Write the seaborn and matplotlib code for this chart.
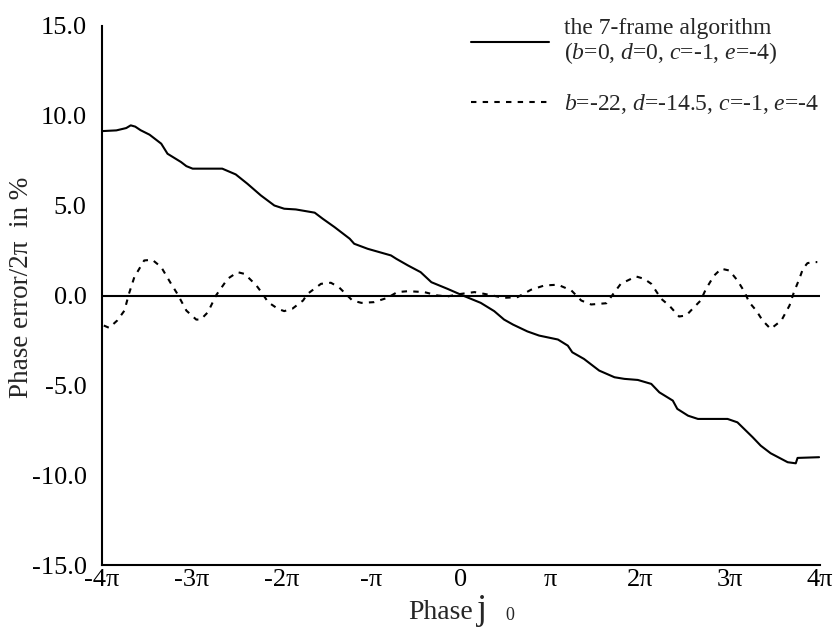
import numpy as np
import pandas as pd
import matplotlib
matplotlib.use("Agg")
import matplotlib.pyplot as plt
import seaborn as sns

# ---- data (x in units of pi, y in %) ----
solid_x = [-4.00, -3.84, -3.73, -3.68, -3.63, -3.57, -3.47, -3.34, -3.27, -3.12, -3.06, -2.99,
           -2.66, -2.51, -2.38, -2.23, -2.08, -1.97, -1.84, -1.63, -1.54, -1.41, -1.24, -1.19,
           -1.04, -0.97, -0.78, -0.72, -0.59, -0.45, -0.33, -0.15, 0.02, 0.22, 0.37, 0.48,
           0.58, 0.74, 0.87, 1.08, 1.19, 1.24, 1.37, 1.54, 1.71, 1.82, 1.97, 2.12, 2.21,
           2.36, 2.41, 2.53, 2.64, 2.97, 3.08, 3.25, 3.34, 3.45, 3.64, 3.73, 3.75, 3.99]
solid_y = [9.15, 9.19, 9.32, 9.47, 9.40, 9.20, 8.95, 8.45, 7.89, 7.43, 7.20, 7.06,
           7.06, 6.74, 6.22, 5.57, 5.01, 4.83, 4.79, 4.61, 4.27, 3.81, 3.16, 2.88,
           2.60, 2.50, 2.23, 2.04, 1.67, 1.30, 0.74, 0.37, 0.00, -0.41, -0.87, -1.34,
           -1.62, -2.00, -2.23, -2.45, -2.79, -3.16, -3.53, -4.18, -4.55, -4.64, -4.70, -4.92, -5.39,
           -5.85, -6.31, -6.69, -6.87, -6.87, -7.06, -7.89, -8.36, -8.78, -9.28, -9.34, -9.04, -9.00]

dash_x = [-3.98, -3.92, -3.83, -3.75, -3.70, -3.64, -3.53, -3.44, -3.34, -3.23, -3.16, -3.06,
          -2.95, -2.90, -2.82, -2.73, -2.60, -2.49, -2.41, -2.28, -2.21, -2.15, -2.04, -1.97,
          -1.88, -1.76, -1.71, -1.56, -1.45, -1.36, -1.21, -1.11, -0.97, -0.82, -0.71, -0.59,
          -0.41, -0.26, -0.15, 0.00, 0.15, 0.26, 0.48, 0.63, 0.78, 0.93, 1.08, 1.23, 1.34,
          1.45, 1.62, 1.67, 1.78, 1.95, 2.04, 2.12, 2.23, 2.32, 2.43, 2.51, 2.58, 2.67, 2.73,
          2.82, 2.90, 2.99, 3.08, 3.16, 3.21, 3.29, 3.36, 3.45, 3.57, 3.66, 3.71, 3.77, 3.81,
          3.86, 3.92, 3.97]
dash_y = [-1.67, -1.80, -1.39, -0.84, 0.09, 1.02, 1.95, 1.99, 1.58, 0.65, 0.09, -0.84,
          -1.34, -1.34, -0.93, 0.00, 0.93, 1.30, 1.20, 0.56, 0.09, -0.37, -0.74, -0.87,
          -0.74, -0.28, 0.09, 0.65, 0.71, 0.46, -0.28, -0.41, -0.37, -0.13, 0.19, 0.24,
          0.19, 0.00, -0.05, 0.09, 0.19, 0.09, -0.13, -0.09, 0.32, 0.56, 0.60, 0.28, -0.28,
          -0.50, -0.43, -0.09, 0.65, 1.06, 0.93, 0.65, -0.18, -0.56, -1.17, -1.11, -0.74, -0.28, 0.37,
          1.11, 1.49, 1.39, 0.84, 0.19, -0.37, -0.84, -1.39, -1.86, -1.39, -0.56, 0.19, 0.93, 1.49,
          1.80, 1.86, 1.86]

xtick_vals = [-4, -3, -2, -1, 0, 1, 2, 3, 4]
xtick_labels = ["-4\u03c0", "-3\u03c0", "-2\u03c0", "-\u03c0", "0", "\u03c0", "2\u03c0", "3\u03c0", "4\u03c0"]
ytick_vals = [-15, -10, -5, 0, 5, 10, 15]
ytick_labels = ["-15.0", "-10.0", "-5.0", "0.0", "5.0", "10.0", "15.0"]

label_solid = "the 7-frame algorithm\n($b$=0, $d$=0, $c$=-1, $e$=-4)"
label_dash = "$b$=-22, $d$=-14.5, $c$=-1, $e$=-4"

sns.set_theme(style="white")
plt.rcParams["font.family"] = ["Liberation Serif", "DejaVu Serif"]
plt.rcParams["mathtext.fontset"] = "custom"
plt.rcParams["mathtext.rm"] = "Liberation Serif"
plt.rcParams["mathtext.it"] = "Liberation Serif:italic"
plt.rcParams["axes.unicode_minus"] = False

fig = plt.figure(figsize=(8.39, 6.30), dpi=100)
ax = fig.add_axes([102/839, 1-565/630, (820-102)/839, (565-26)/630])

df_s = pd.DataFrame({"x": np.array(solid_x) * np.pi, "y": solid_y})
df_d = pd.DataFrame({"x": np.array(dash_x) * np.pi, "y": dash_y})

ax.axhline(0, color="black", lw=1.5, zorder=1)
sns.lineplot(data=df_s, x="x", y="y", ax=ax, color="black", lw=1.5, label=label_solid)
sns.lineplot(data=df_d, x="x", y="y", ax=ax, color="black", lw=1.5,
             dashes=False, label=label_dash)
ax.lines[-1].set_linestyle((0, (2.6, 3.0)))

ax.set_xlim(-4*np.pi, 4*np.pi)
ax.set_ylim(-15, 15)
ax.set_xticks(np.array(xtick_vals) * np.pi)
ax.set_xticklabels(xtick_labels)
ax.set_yticks(ytick_vals)
ax.set_yticklabels(ytick_labels)
ax.tick_params(axis="x", direction="in", length=11, width=1.5, pad=3, labelsize=19, colors="black")
ax.tick_params(axis="y", direction="in", length=9.5, width=1.5, pad=11, labelsize=19, colors="black")
for s in ["top", "right"]:
    ax.spines[s].set_visible(False)
for s in ["left", "bottom"]:
    ax.spines[s].set_linewidth(1.5)
    ax.spines[s].set_color("black")
ax.set_xlabel("")
ax.set_ylabel("Phase error/2\u03c0  in %", fontsize=19.5)
ax.yaxis.set_label_coords(-0.095, 0.515)

# x label: "Phase" + symbol j + subscript 0
fig.text(408/839, 1-619/630, "Phase", fontsize=20, ha="left", va="baseline")
fig.text(477/839, 1-619/630, "j", fontsize=26, ha="left", va="baseline")
fig.text(505/839, 1-620/630, "0", fontsize=13, ha="left", va="baseline")

leg = ax.legend(loc="upper left", bbox_to_anchor=(462/839, 1-9/630), bbox_transform=fig.transFigure,
                frameon=False, fontsize=17, handlelength=3.3, handletextpad=0.6,
                labelspacing=1.1, borderaxespad=0)
leg.get_lines()[1].set_linestyle((0, (2.6, 3.0)))
leg.get_texts()[0].set_linespacing(1.05)

fig.savefig("out.png", dpi=100)
